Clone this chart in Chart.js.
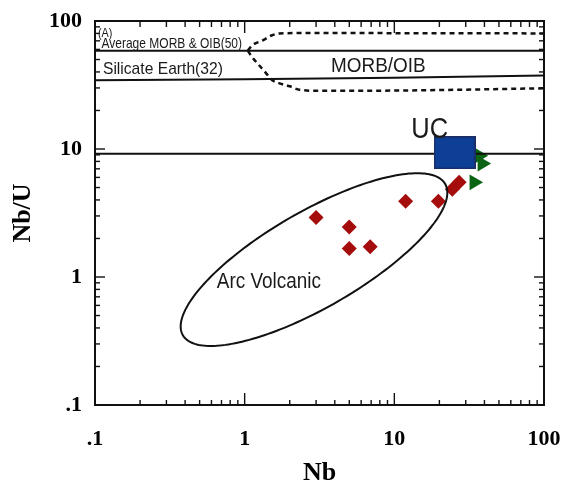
<!DOCTYPE html>
<html><head><meta charset="utf-8">
<script src="https://cdn.jsdelivr.net/npm/chart.js@4/dist/chart.umd.min.js"></script>
<style>html,body{margin:0;padding:0;background:#fff}#wrap{width:565px;height:491px;position:relative}</style>
</head><body><div id="wrap"><canvas id="c"></canvas></div>
<script>
// ---- axis ticks ----
const xMajorTicks = [0.1, 1, 10, 100];
const yMajorTicks = [0.1, 1, 10, 100];
const tickLabels = {"0.1": ".1", "1": "1", "10": "10", "100": "100"};
const minorMultipliers = [2, 3, 4, 5, 6, 7, 8, 9];

// ---- samples (red diamonds) ----
const sampleNb  = [3.0, 5.0, 5.0, 6.9, 11.9, 19.7, 24.4, 27.1];
const sampleNbU = [2.91, 2.46, 1.67, 1.72, 3.91, 3.91, 4.84, 5.49];
// ---- green triangles ----
const triNb  = [36.9, 38.6, 34.1];
const triNbU = [8.87, 7.69, 5.49];
// ---- UC (upper crust) ----
const ucNb  = [25.3];
const ucNbU = [9.36];
// ---- reference lines ----
const avgLineNb  = [0.1, 100];
const avgLineNbU = [58.6, 58.6];
const silicateNb  = [0.1, 1, 10, 100];
const silicateNbU = [34.4, 35.0, 36.0, 37.6];
const ucLineNb  = [0.1, 100];
const ucLineNbU = [9.2, 9.2];
// ---- MORB/OIB field (dashed) ----
const oibUpperNb  = [1.05, 1.12, 1.32, 1.51, 1.71, 2.5, 100];
const oibUpperNbU = [58.6, 64.4, 70.5, 77.0, 80.0, 80.5, 80.0];
const oibLowerNb  = [1.05, 1.12, 1.22, 1.36, 1.53, 1.71, 2.0, 2.33, 3.2, 10, 100];
const oibLowerNbU = [58.6, 52.4, 46.5, 40.3, 34.5, 32.6, 30.9, 29.0, 28.5, 28.6, 29.8];
// ---- Arc volcanic field (ellipse: center, end of major semi-axis, end of minor semi-axis) ----
const arcCenter   = [2.906, 1.368];
const arcMajorTip = [21.84, 5.34];
const arcMinorTip = [2.0, 2.89];

// ---- text annotations (anchor in data units) ----
const notes = [
  {text: "(A)", nb: 0.1047, nbu: 75.2, size: 12, sx: 0.9},
  {text: "Average MORB & OIB(50)", nb: 0.1105, nbu: 61.2, size: 15, sx: 0.8},
  {text: "Silicate Earth(32)", nb: 0.113, nbu: 38.4, size: 17, sx: 0.92},
  {text: "MORB/OIB", nb: 3.78, nbu: 40.3, size: 21, sx: 0.9},
  {text: "UC", nb: 12.98, nbu: 12.23, size: 30, sx: 0.85},
  {text: "Arc Volcanic", nb: 0.651, nbu: 0.823, size: 22, sx: 0.86}
];

const zip = (xs, ys) => xs.map((x, i) => ({x: x, y: ys[i]}));
const minorOf = majors => {
  const out = [];
  majors.slice(0, -1).forEach(d => minorMultipliers.forEach(m => out.push(d * m)));
  return out;
};

const ucBox = document.createElement('canvas');
ucBox.width = 42; ucBox.height = 33;
(function () {
  const g = ucBox.getContext('2d');
  g.fillStyle = '#0d3f96'; g.fillRect(0, 0, 42, 33);
  g.strokeStyle = '#1b2d63'; g.lineWidth = 1.5; g.strokeRect(0.75, 0.75, 40.5, 31.5);
})();

const overlay = {
  id: 'overlay',
  afterDatasetsDraw(chart) {
    const ctx = chart.ctx, a = chart.chartArea;
    const xs = chart.scales.x, ys = chart.scales.y;
    ctx.save();
    // ellipse
    const cx = xs.getPixelForValue(arcCenter[0]), cy = ys.getPixelForValue(arcCenter[1]);
    const ux = xs.getPixelForValue(arcMajorTip[0]) - cx, uy = ys.getPixelForValue(arcMajorTip[1]) - cy;
    const vx = xs.getPixelForValue(arcMinorTip[0]) - cx, vy = ys.getPixelForValue(arcMinorTip[1]) - cy;
    ctx.beginPath();
    for (let i = 0; i <= 200; i++) {
      const t = i / 200 * Math.PI * 2;
      const px = cx + ux * Math.cos(t) + vx * Math.sin(t);
      const py = cy + uy * Math.cos(t) + vy * Math.sin(t);
      if (i === 0) ctx.moveTo(px, py); else ctx.lineTo(px, py);
    }
    ctx.closePath();
    ctx.strokeStyle = '#111'; ctx.lineWidth = 2; ctx.stroke();

    // frame
    ctx.strokeStyle = '#111'; ctx.lineWidth = 2;
    ctx.strokeRect(a.left, a.top, a.right - a.left, a.bottom - a.top);
    // ticks
    ctx.lineWidth = 1.4;
    const xMin = minorOf(xMajorTicks), yMin = minorOf(yMajorTicks);
    const seg = (x1, y1, x2, y2) => { ctx.beginPath(); ctx.moveTo(x1, y1); ctx.lineTo(x2, y2); ctx.stroke(); };
    xMajorTicks.forEach(v => { const p = xs.getPixelForValue(v); seg(p, a.bottom, p, a.bottom - 12); seg(p, a.top, p, a.top + 12); });
    xMin.forEach(v => { const p = xs.getPixelForValue(v); seg(p, a.bottom, p, a.bottom - 5); seg(p, a.top, p, a.top + 6); });
    yMajorTicks.forEach(v => { const p = ys.getPixelForValue(v); seg(a.left, p, a.left + 10, p); seg(a.right, p, a.right - 10, p); });
    yMin.forEach(v => { const p = ys.getPixelForValue(v); seg(a.left, p, a.left + 5, p); seg(a.right, p, a.right - 5, p); });

    // annotations
    ctx.fillStyle = '#1a1a1a';
    ctx.textAlign = 'left'; ctx.textBaseline = 'alphabetic';
    notes.forEach(n => {
      ctx.save();
      ctx.translate(xs.getPixelForValue(n.nb), ys.getPixelForValue(n.nbu));
      ctx.scale(n.sx, 1);
      ctx.font = n.size + 'px "Liberation Sans", Arial, Helvetica, sans-serif';
      ctx.fillText(n.text, 0, 0);
      ctx.restore();
    });
    ctx.restore();
  }
};

const serif = '"Liberation Serif", "Times New Roman", Times, serif';

new Chart(document.getElementById('c'), {
  type: 'scatter',
  data: {
    datasets: [
      {label: 'UC', data: zip(ucNb, ucNbU), pointStyle: ucBox, pointRadius: 20, order: 0},
      {label: 'UC line', data: zip(ucLineNb, ucLineNbU), showLine: true, pointRadius: 0, borderColor: '#111', borderWidth: 2, order: 1},
      {label: 'Average MORB & OIB', data: zip(avgLineNb, avgLineNbU), showLine: true, pointRadius: 0, borderColor: '#111', borderWidth: 2, order: 1},
      {label: 'Silicate Earth', data: zip(silicateNb, silicateNbU), showLine: true, pointRadius: 0, borderColor: '#111', borderWidth: 2, order: 1},
      {label: 'MORB/OIB upper', data: zip(oibUpperNb, oibUpperNbU), showLine: true, pointRadius: 0, borderColor: '#111', borderWidth: 2.5, borderDash: [5, 4], cubicInterpolationMode: 'monotone', order: 1},
      {label: 'MORB/OIB lower', data: zip(oibLowerNb, oibLowerNbU), showLine: true, pointRadius: 0, borderColor: '#111', borderWidth: 2.5, borderDash: [5, 4], cubicInterpolationMode: 'monotone', order: 1},
      {label: 'Triangles', data: zip(triNb, triNbU), pointStyle: 'triangle', rotation: 90, pointRadius: 9, backgroundColor: '#0b6414', borderColor: '#0b6414', borderWidth: 0, order: 2},
      {label: 'Samples', data: zip(sampleNb, sampleNbU), pointStyle: 'rectRot', pointRadius: 7.5, backgroundColor: '#a50c0c', borderColor: '#a50c0c', borderWidth: 0, order: 3}
    ]
  },
  options: {
    responsive: true, maintainAspectRatio: false, animation: false,
    layout: {padding: {top: 17, right: 20, left: 0, bottom: 0}},
    plugins: {legend: {display: false}, tooltip: {enabled: false}},
    scales: {
      x: {
        type: 'logarithmic', position: 'bottom', min: 0.1, max: 100,
        afterBuildTicks: s => { s.ticks = xMajorTicks.map(v => ({value: v})); },
        afterFit: s => { s.height = 86; s.paddingLeft = 0; s.paddingRight = 0; },
        grid: {display: false, drawTicks: false}, border: {display: false},
        ticks: {autoSkip: false, maxRotation: 0, padding: 21, color: '#000',
          font: {family: serif, weight: 'bold', size: 22},
          callback: v => tickLabels[String(v)] ?? ''},
        title: {display: true, text: 'Nb', color: '#000', font: {family: serif, weight: 'bold', size: 26}, padding: {top: 0, bottom: 2}}
      },
      y: {
        type: 'logarithmic', position: 'left', min: 0.1, max: 100,
        afterBuildTicks: s => { s.ticks = yMajorTicks.map(v => ({value: v})); },
        afterFit: s => { s.width = 95; s.paddingTop = 0; s.paddingBottom = 0; },
        grid: {display: false, drawTicks: false}, border: {display: false},
        ticks: {autoSkip: false, padding: 13, color: '#000',
          font: {family: serif, weight: 'bold', size: 22},
          callback: v => tickLabels[String(v)] ?? ''},
        title: {display: true, text: 'Nb/U', color: '#000', font: {family: serif, weight: 'bold', size: 26}, padding: {top: 8, bottom: 0}}
      }
    }
  },
  plugins: [overlay]
});
</script>
</body></html>
